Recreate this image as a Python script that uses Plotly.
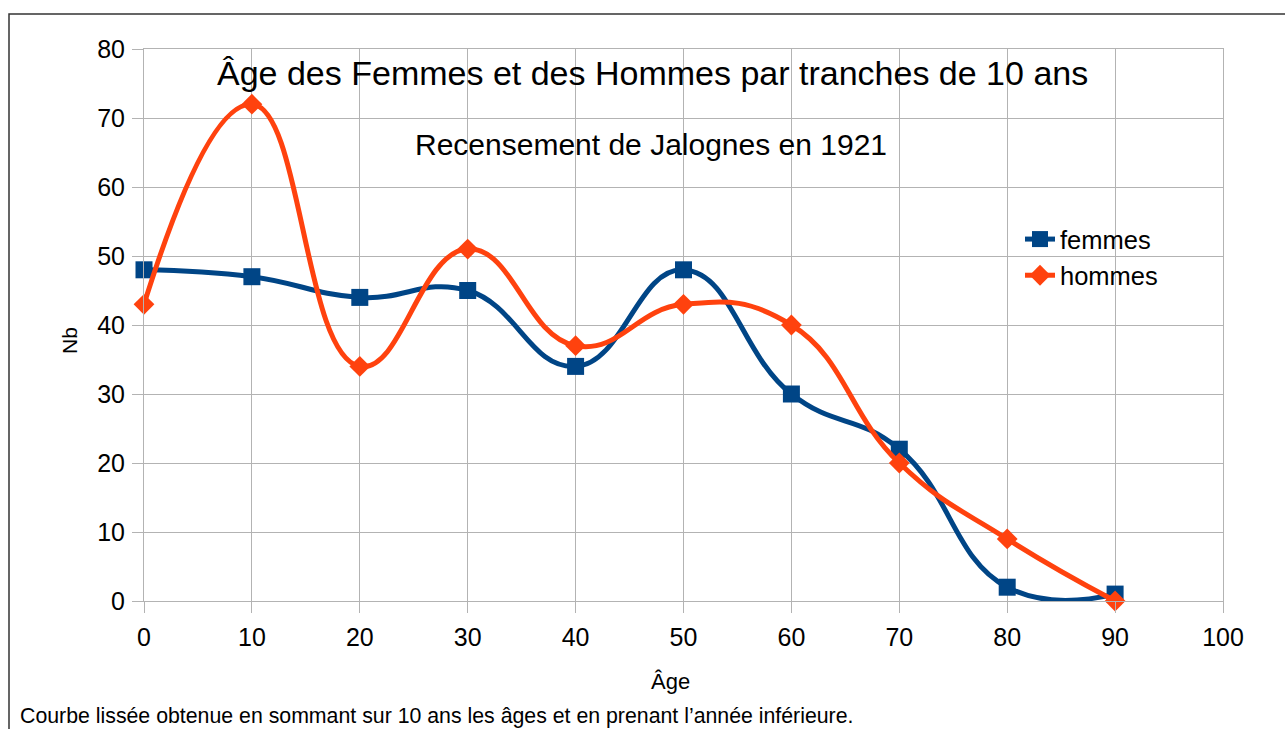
"""
Âge des Femmes et des Hommes - recensement de Jalognes 1921
"""

import plotly.graph_objects as go

# Data
ages = [0, 10, 20, 30, 40, 50, 60, 70, 80, 90]
femmes = [48, 47, 44, 45, 34, 48, 30, 22, 2, 1]
hommes = [43, 72, 34, 51, 37, 43, 40, 20, 9, 0]

x_ticks = [0, 10, 20, 30, 40, 50, 60, 70, 80, 90, 100]
y_ticks = [0, 10, 20, 30, 40, 50, 60, 70, 80]

BLUE = '#004586'
ORANGE = '#ff420e'
GRID = '#b3b3b3'
FONT = 'Liberation Sans, Arial, sans-serif'

# Window size (body margin is removed in the page, so figure fills the window)
W, H = 1285, 729
# Plot area edges in window pixels
L, R, T, B = 144, 1223, 49, 601
PW, PH = R - L, B - T


def px_x(x):
    return (x - L) / PW


def px_y(y):
    return (B - y) / PH


fig = go.Figure()

fig.add_trace(go.Scatter(
    x=ages, y=femmes,
    mode='lines+markers', name='femmes', legendgroup='f',
    line=dict(color=BLUE, width=5, shape='spline', smoothing=1.3),
    marker=dict(symbol='square', size=17, color=BLUE),
    cliponaxis=False,
))

fig.add_trace(go.Scatter(
    x=ages, y=hommes,
    mode='lines+markers', name='hommes', legendgroup='h',
    line=dict(color=ORANGE, width=5, shape='spline', smoothing=1.3),
    marker=dict(symbol='diamond', size=16, color=ORANGE),
    cliponaxis=False,
))

axis_common = dict(
    showgrid=True, gridcolor=GRID, gridwidth=1,
    showline=True, linecolor=GRID, linewidth=1,
    ticks='outside', ticklen=11, tickcolor=GRID, tickwidth=1,
    tickfont=dict(size=25, color='#000000', family=FONT),
    zeroline=False, fixedrange=True, mirror=True,
)

fig.update_xaxes(range=[0, 100], tickvals=x_ticks, ticklabelstandoff=3, **axis_common)
fig.update_yaxes(range=[0, 80], tickvals=y_ticks, ticklabelstandoff=2, **axis_common)

annotations = [
    dict(text='Âge des Femmes et des Hommes par tranches de 10 ans',
         x=px_x(652), y=px_y(73), font=dict(size=34)),
    dict(text='Recensement de Jalognes en 1921',
         x=px_x(651), y=px_y(144), font=dict(size=30)),
    dict(text='Nb', x=px_x(69), y=px_y(341), textangle=-90, font=dict(size=21)),
    dict(text='Âge', x=px_x(670), y=px_y(681), font=dict(size=22)),
    dict(text='Courbe lissée obtenue en sommant sur 10 ans les âges et en prenant l’année inférieure.',
         x=px_x(18), y=px_y(716), xanchor='left', font=dict(size=21.3)),
]
for a in annotations:
    a.setdefault('xanchor', 'center')
    a.update(xref='paper', yref='paper', yanchor='middle', showarrow=False)
    a['font'].update(color='#000000', family=FONT)

fig.update_layout(
    width=W, height=H,
    margin=dict(l=L, r=W - R, t=T, b=H - B),
    paper_bgcolor='white', plot_bgcolor='white',
    font=dict(family=FONT, color='#000000'),
    annotations=annotations,
    showlegend=True,
    legend=dict(
        x=px_x(1020), y=px_y(216), xanchor='left', yanchor='top',
        font=dict(size=25.5, color='#000000', family=FONT),
        bgcolor='rgba(0,0,0,0)', tracegroupgap=0,
    ),
    shapes=[dict(
        type='rect', xref='paper', yref='paper',
        x0=px_x(9), x1=px_x(1320), y0=px_y(780), y1=px_y(14),
        line=dict(color='#333333', width=1.5), layer='above',
    )],
)

fig.write_html(
    "out.html",
    config=dict(displayModeBar=False),
    post_script="document.body.style.margin='0';document.body.style.overflow='hidden';",
)
